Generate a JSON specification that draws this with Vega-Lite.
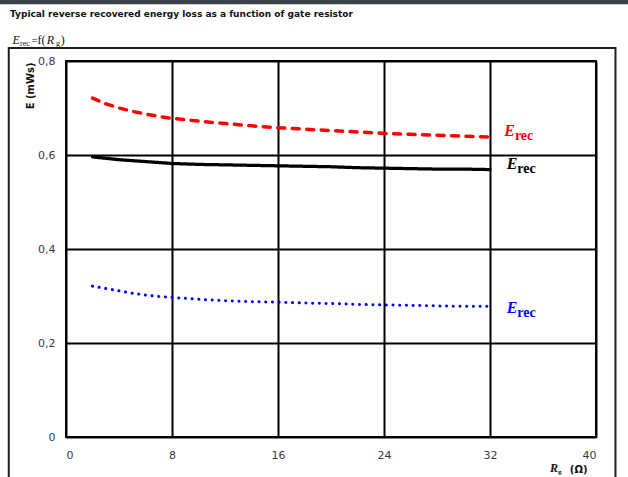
{
  "$schema": "https://vega.github.io/schema/vega-lite/v6.json",
  "width": 530,
  "height": 376,
  "autosize": {"type": "none"},
  "padding": {"left": 66, "top": 61, "right": 32, "bottom": 40},
  "background": "white",
  "config": {
    "view": {"stroke": "#000000", "strokeWidth": 2},
    "axis": {
      "grid": true, "gridColor": "#000000", "gridWidth": 2, "gridOpacity": 1,
      "domain": false, "ticks": false,
      "labelFont": "DejaVu Sans", "labelFontSize": 11, "labelColor": "#3a3a3a"
    }
  },
  "datasets": {
    "curves": [
      {"Rg": 2, "E": 0.721, "series": "upper"}, {"Rg": 3, "E": 0.709, "series": "upper"}, {"Rg": 4, "E": 0.700, "series": "upper"}, {"Rg": 5, "E": 0.693, "series": "upper"}, {"Rg": 6, "E": 0.687, "series": "upper"}, {"Rg": 7, "E": 0.682, "series": "upper"}, {"Rg": 8, "E": 0.678, "series": "upper"}, {"Rg": 10, "E": 0.672, "series": "upper"}, {"Rg": 12, "E": 0.667, "series": "upper"}, {"Rg": 14, "E": 0.662, "series": "upper"}, {"Rg": 16, "E": 0.658, "series": "upper"}, {"Rg": 18, "E": 0.655, "series": "upper"}, {"Rg": 20, "E": 0.652, "series": "upper"}, {"Rg": 22, "E": 0.649, "series": "upper"}, {"Rg": 24, "E": 0.646, "series": "upper"}, {"Rg": 26, "E": 0.644, "series": "upper"}, {"Rg": 28, "E": 0.642, "series": "upper"}, {"Rg": 30, "E": 0.640, "series": "upper"}, {"Rg": 32, "E": 0.638, "series": "upper"},
      {"Rg": 2, "E": 0.596, "series": "middle"}, {"Rg": 3, "E": 0.593, "series": "middle"}, {"Rg": 4, "E": 0.590, "series": "middle"}, {"Rg": 5, "E": 0.588, "series": "middle"}, {"Rg": 6, "E": 0.586, "series": "middle"}, {"Rg": 7, "E": 0.584, "series": "middle"}, {"Rg": 8, "E": 0.582, "series": "middle"}, {"Rg": 10, "E": 0.580, "series": "middle"}, {"Rg": 12, "E": 0.579, "series": "middle"}, {"Rg": 14, "E": 0.578, "series": "middle"}, {"Rg": 16, "E": 0.577, "series": "middle"}, {"Rg": 18, "E": 0.576, "series": "middle"}, {"Rg": 20, "E": 0.575, "series": "middle"}, {"Rg": 22, "E": 0.573, "series": "middle"}, {"Rg": 24, "E": 0.572, "series": "middle"}, {"Rg": 26, "E": 0.571, "series": "middle"}, {"Rg": 28, "E": 0.570, "series": "middle"}, {"Rg": 30, "E": 0.570, "series": "middle"}, {"Rg": 32, "E": 0.569, "series": "middle"},
      {"Rg": 2, "E": 0.321, "series": "lower"}, {"Rg": 3, "E": 0.316, "series": "lower"}, {"Rg": 4, "E": 0.311, "series": "lower"}, {"Rg": 5, "E": 0.306, "series": "lower"}, {"Rg": 6, "E": 0.302, "series": "lower"}, {"Rg": 7, "E": 0.299, "series": "lower"}, {"Rg": 8, "E": 0.297, "series": "lower"}, {"Rg": 10, "E": 0.293, "series": "lower"}, {"Rg": 12, "E": 0.290, "series": "lower"}, {"Rg": 14, "E": 0.288, "series": "lower"}, {"Rg": 16, "E": 0.287, "series": "lower"}, {"Rg": 18, "E": 0.285, "series": "lower"}, {"Rg": 20, "E": 0.284, "series": "lower"}, {"Rg": 22, "E": 0.282, "series": "lower"}, {"Rg": 24, "E": 0.281, "series": "lower"}, {"Rg": 26, "E": 0.280, "series": "lower"}, {"Rg": 28, "E": 0.279, "series": "lower"}, {"Rg": 30, "E": 0.278, "series": "lower"}, {"Rg": 32, "E": 0.278, "series": "lower"}
    ],
    "labels": [
      {"series": "upper", "Rg": 33.08, "E": 0.640},
      {"series": "middle", "Rg": 33.26, "E": 0.570},
      {"series": "lower", "Rg": 33.26, "E": 0.2645}
    ]
  },
  "layer": [
    {
      "data": {"values": [{}]},
      "mark": {"type": "rect", "fill": null, "stroke": "#1e1e1e", "strokeWidth": 2},
      "encoding": {
        "x": {"datum": -4.32, "type": "quantitative", "scale": {"domain": [0, 40], "nice": false, "zero": false}, "axis": {"values": [0, 8, 16, 24, 32, 40], "labelPadding": 12, "title": "(Ω)", "titleFont": "DejaVu Sans", "titleFontWeight": "bold", "titleFontSize": 10, "titleColor": "#111111", "titleAlign": "right", "titleBaseline": "alphabetic", "titleAnchor": null, "titleX": 521, "titleY": 35}},
        "x2": {"datum": 41.47},
        "y": {"datum": 0.8277, "type": "quantitative", "scale": {"domain": [0, 0.8], "nice": false, "zero": false}, "axis": {"values": [0, 0.2, 0.4, 0.6, 0.8], "labelPadding": 11, "labelExpr": "datum.value == 0 ? '0' : replace(format(datum.value, '.1f'), '.', ',')", "title": "E (mWs)", "titleFont": "DejaVu Sans", "titleFontWeight": "bold", "titleFontSize": 10, "titleColor": "#111111", "titleAngle": 270, "titleAlign": "right", "titleBaseline": "alphabetic", "titleAnchor": null, "titleX": -33, "titleY": 1}},
        "y2": {"datum": -0.2}
      }
    },
    {
      "data": {"values": [{}]},
      "mark": {"type": "rect", "fill": "#3c4249", "stroke": null},
      "encoding": {
        "x": {"datum": -5.2},
        "x2": {"datum": 43},
        "y": {"datum": 0.93},
        "y2": {"datum": 0.9205}
      }
    },
    {
      "data": {"name": "curves"},
      "mark": {"type": "line", "strokeCap": "round", "strokeJoin": "round", "clip": true},
      "encoding": {
        "x": {"field": "Rg", "type": "quantitative"},
        "y": {"field": "E", "type": "quantitative"},
        "detail": {"field": "series"},
        "color": {"field": "series", "type": "nominal", "scale": {"domain": ["upper", "middle", "lower"], "range": ["#ff0000", "#000000", "#0000ff"]}, "legend": null},
        "strokeDash": {"field": "series", "type": "nominal", "scale": {"domain": ["upper", "middle", "lower"], "range": [[7, 7.5], [1, 0], [0.1, 6.6]]}, "legend": null},
        "strokeWidth": {"field": "series", "type": "nominal", "scale": {"domain": ["upper", "middle", "lower"], "range": [3.5, 3, 4]}, "legend": null}
      }
    },
    {
      "data": {"name": "labels"},
      "mark": {"type": "text", "font": "Liberation Serif", "fontStyle": "italic", "fontWeight": "bold", "fontSize": 16, "align": "left", "baseline": "alphabetic"},
      "encoding": {
        "x": {"field": "Rg", "type": "quantitative"},
        "y": {"field": "E", "type": "quantitative"},
        "color": {"field": "series", "type": "nominal", "legend": null},
        "text": {"value": "E"}
      }
    },
    {
      "data": {"name": "labels"},
      "mark": {"type": "text", "font": "Liberation Serif", "fontWeight": "bold", "fontSize": 14, "align": "left", "baseline": "alphabetic", "dx": 10.6, "dy": 4},
      "encoding": {
        "x": {"field": "Rg", "type": "quantitative"},
        "y": {"field": "E", "type": "quantitative"},
        "color": {"field": "series", "type": "nominal", "legend": null},
        "text": {"value": "rec"}
      }
    },
    {
      "data": {"values": [{}]},
      "mark": {"type": "text", "font": "DejaVu Sans", "fontWeight": "bold", "fontSize": 9, "align": "left", "baseline": "alphabetic", "dx": -56, "dy": -44.5, "color": "#111111"},
      "encoding": {"x": {"datum": 0}, "y": {"datum": 0.8}, "text": {"value": "Typical reverse recovered energy loss as a function of gate resistor"}}
    },
    {
      "data": {"values": [{}]},
      "mark": {"type": "text", "font": "Liberation Serif", "fontStyle": "italic", "fontSize": 12, "align": "left", "baseline": "alphabetic", "dx": -53.5, "dy": -17, "color": "#111111"},
      "encoding": {"x": {"datum": 0}, "y": {"datum": 0.8}, "text": {"value": "E"}}
    },
    {
      "data": {"values": [{}]},
      "mark": {"type": "text", "font": "Liberation Serif", "fontSize": 8, "align": "left", "baseline": "alphabetic", "dx": -46, "dy": -15.5, "color": "#111111"},
      "encoding": {"x": {"datum": 0}, "y": {"datum": 0.8}, "text": {"value": "rec"}}
    },
    {
      "data": {"values": [{}]},
      "mark": {"type": "text", "font": "Liberation Serif", "fontSize": 11, "align": "left", "baseline": "alphabetic", "dx": -34.5, "dy": -17, "color": "#111111"},
      "encoding": {"x": {"datum": 0}, "y": {"datum": 0.8}, "text": {"value": "="}}
    },
    {
      "data": {"values": [{}]},
      "mark": {"type": "text", "font": "Liberation Serif", "fontSize": 12, "align": "left", "baseline": "alphabetic", "dx": -28.5, "dy": -17, "color": "#111111"},
      "encoding": {"x": {"datum": 0}, "y": {"datum": 0.8}, "text": {"value": "f("}}
    },
    {
      "data": {"values": [{}]},
      "mark": {"type": "text", "font": "Liberation Serif", "fontStyle": "italic", "fontSize": 12, "align": "left", "baseline": "alphabetic", "dx": -19.3, "dy": -17, "color": "#111111"},
      "encoding": {"x": {"datum": 0}, "y": {"datum": 0.8}, "text": {"value": "R"}}
    },
    {
      "data": {"values": [{}]},
      "mark": {"type": "text", "font": "Liberation Serif", "fontSize": 8, "align": "left", "baseline": "alphabetic", "dx": -10, "dy": -15.5, "color": "#111111"},
      "encoding": {"x": {"datum": 0}, "y": {"datum": 0.8}, "text": {"value": "g"}}
    },
    {
      "data": {"values": [{}]},
      "mark": {"type": "text", "font": "Liberation Serif", "fontSize": 12, "align": "left", "baseline": "alphabetic", "dx": -5.3, "dy": -17, "color": "#111111"},
      "encoding": {"x": {"datum": 0}, "y": {"datum": 0.8}, "text": {"value": ")"}}
    },
    {
      "data": {"values": [{}]},
      "mark": {"type": "text", "font": "Liberation Serif", "fontStyle": "italic", "fontWeight": "bold", "fontSize": 12, "align": "left", "baseline": "alphabetic", "dx": -46, "dy": 35, "color": "#111111"},
      "encoding": {"x": {"datum": 40}, "y": {"datum": 0}, "text": {"value": "R"}}
    },
    {
      "data": {"values": [{}]},
      "mark": {"type": "text", "font": "Liberation Serif", "fontWeight": "bold", "fontSize": 7, "align": "left", "baseline": "alphabetic", "dx": -38, "dy": 37, "color": "#111111"},
      "encoding": {"x": {"datum": 40}, "y": {"datum": 0}, "text": {"value": "g"}}
    }
  ]
}
